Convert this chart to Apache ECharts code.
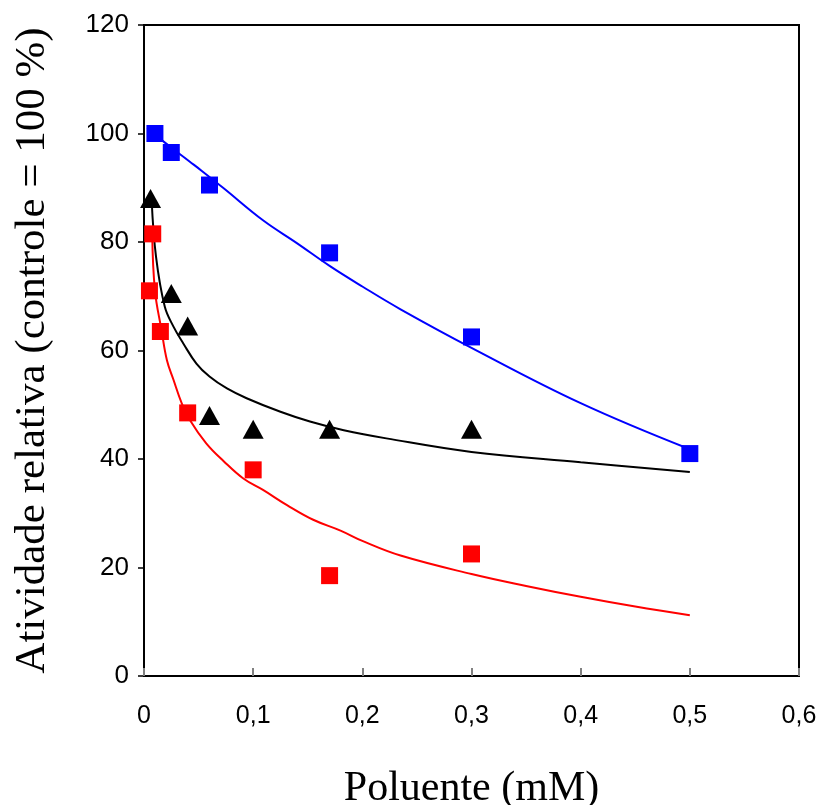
<!DOCTYPE html>
<html>
<head>
<meta charset="utf-8">
<script src="https://cdn.jsdelivr.net/npm/echarts@6/dist/echarts.min.js"></script>
<style>
  html, body { margin: 0; padding: 0; background: #fff; }
  #chart { width: 823px; height: 805px; }
</style>
</head>
<body>
<div id="chart"></div>
<script>
const xTicks = [0, 0.1, 0.2, 0.3, 0.4, 0.5, 0.6];
const yTicks = [0, 20, 40, 60, 80, 100, 120];

// measured points
const blueX = [0.01, 0.025, 0.06, 0.17, 0.3, 0.5];
const blueY = [100, 96.5, 90.5, 78, 62.5, 41];
const redX = [0.005, 0.008, 0.015, 0.04, 0.1, 0.17, 0.3];
const redY = [71, 81.5, 63.5, 48.5, 38, 18.5, 22.5];
const blackX = [0.006, 0.025, 0.04, 0.06, 0.1, 0.17, 0.3];
const blackY = [88, 70.5, 64.5, 48, 45.5, 45.5, 45.5];

// fitted curves
const blueFitX = [0.003, 0.018, 0.042, 0.053, 0.073, 0.109, 0.14, 0.17, 0.2, 0.235, 0.3, 0.4, 0.5];
const blueFitY = [101, 98.5, 94.8, 93.1, 89.9, 84, 79.8, 75.6, 71.8, 67.6, 60.5, 50.3, 41.8];
const redFitX = [0.0075, 0.01, 0.016, 0.021, 0.027, 0.0345, 0.042, 0.057, 0.073, 0.091, 0.109, 0.131, 0.155, 0.18, 0.2, 0.235, 0.3, 0.35, 0.4, 0.45, 0.5];
const redFitY = [81.6, 71.1, 63.8, 58.2, 54.6, 50.3, 47.2, 42.9, 39.6, 36.4, 34.3, 31.5, 28.8, 26.8, 24.9, 22.2, 18.8, 16.6, 14.6, 12.8, 11.2];
const blackFitX = [0.007, 0.011, 0.019, 0.027, 0.036, 0.048, 0.06, 0.076, 0.094, 0.125, 0.152, 0.183, 0.222, 0.3, 0.4, 0.5];
const blackFitY = [87.7, 77.3, 68.1, 64.4, 61.3, 57.6, 55.2, 53, 51.2, 48.7, 46.9, 45.3, 43.8, 41.3, 39.4, 37.6];

const zip = (xs, ys) => xs.map((x, i) => [x, ys[i]]);

const chart = echarts.init(document.getElementById("chart"));

const fitLine = (name, xs, ys, color) => ({
  name,
  type: "line",
  data: zip(xs, ys),
  showSymbol: false,
  smooth: 0.4,
  lineStyle: { color, width: 2 },
  z: 2,
});

const marks = (name, xs, ys, color, symbol, size) => ({
  name,
  type: "scatter",
  data: zip(xs, ys),
  symbol,
  symbolSize: size,
  itemStyle: { color, opacity: 1 },
  z: 5,
});

const option = {
  animation: false,
  backgroundColor: "#fff",
  grid: {
    left: 144,
    right: 24,
    top: 25,
    bottom: 129,
    outerBoundsMode: "none",
    containLabel: false,
    show: true,
    borderColor: "#000",
    borderWidth: 2,
  },
  xAxis: {
    type: "value",
    min: 0,
    max: 0.6,
    interval: 0.1,
    name: "Poluente (mM)",
    nameLocation: "middle",
    nameGap: 92,
    nameTextStyle: { fontFamily: "Liberation Serif", fontSize: 42, color: "#000" },
    axisLine: { show: true, lineStyle: { color: "#000", width: 2 } },
    axisTick: { show: true, inside: true, length: 8, lineStyle: { color: "#808080", width: 2 } },
    axisLabel: {
      margin: 28,
      fontFamily: "Liberation Sans",
      fontSize: 25,
      color: "#000",
      formatter: (v) => (v === 0 ? "0" : v.toFixed(1).replace(".", ",")),
    },
    splitLine: { show: false },
  },
  yAxis: {
    type: "value",
    min: 0,
    max: 120,
    interval: 20,
    name: "Atividade relativa (controle = 100 %)",
    nameLocation: "middle",
    nameGap: 90,
    nameTextStyle: { fontFamily: "Liberation Serif", fontSize: 43, color: "#000" },
    axisLine: { show: true, lineStyle: { color: "#000", width: 2 } },
    axisTick: { show: true, inside: false, length: 6, lineStyle: { color: "#000", width: 1.5 } },
    axisLabel: {
      margin: 15,
      fontFamily: "Liberation Sans",
      fontSize: 26,
      color: "#000",
    },
    splitLine: { show: false },
  },
  series: [
    fitLine("blue fit", blueFitX, blueFitY, "#0000ff"),
    fitLine("black fit", blackFitX, blackFitY, "#000000"),
    fitLine("red fit", redFitX, redFitY, "#ff0000"),
    marks("blue", blueX, blueY, "#0000ff", "rect", 17),
    marks("black", blackX, blackY, "#000000", "triangle", [21, 19]),
    marks("red", redX, redY, "#ff0000", "rect", 17),
  ],
};

chart.setOption(option);
</script>
</body>
</html>
